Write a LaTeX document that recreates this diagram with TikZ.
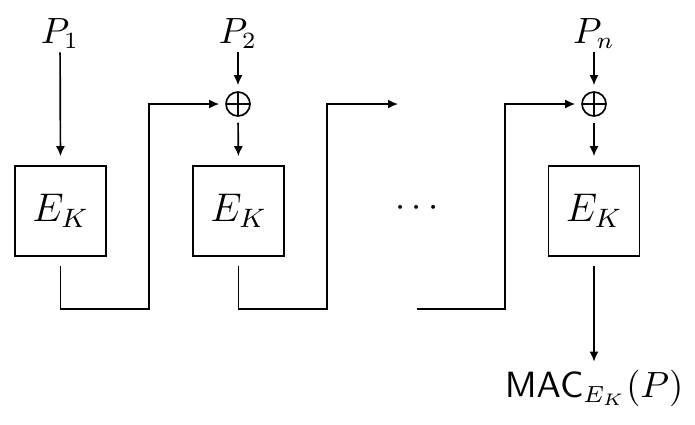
\documentclass[tikz,border=0pt]{standalone}
\usetikzlibrary{arrows.meta,calc}
\begin{document}
\begin{tikzpicture}[x=0.3pt,y=-0.3pt,
  conn/.style={line width=0.5pt},
  arr/.style={conn,-{Latex[length=3pt,width=2.7pt]}},
  lbl/.style={inner sep=1pt,font=\fontsize{10.6}{12}\selectfont},
  cipher/.style={draw,line width=0.5pt,minimum width=27.3pt,minimum height=27pt,inner sep=0pt,font=\fontsize{12}{14}\selectfont},
  xorop/.style={draw,circle,line width=0.5pt,minimum size=7.2pt,inner sep=0pt,
    path picture={\draw[line width=0.5pt] (path picture bounding box.north) -- (path picture bounding box.south)
      (path picture bounding box.west) -- (path picture bounding box.east);}}]
\useasboundingbox (0,0) rectangle (695,424);
% inputs
\node[lbl,anchor=base] (p1) at (60,43) {$P_1$};
\node[lbl,anchor=base] (p2) at (238,43) {$P_2$};
\node[lbl,anchor=base] (pn) at (594,43) {$P_n$};
% xor
\node[xorop] (x2) at (238,104) {};
\node[xorop] (x3) at (594,104) {};
% boxes
\node[cipher] (b1) at (60.5,211) {$E_K$};
\node[cipher] (b2) at (238.5,211) {$E_K$};
\node[cipher] (b3) at (594,211) {$E_K$};
% dots
\node[lbl,font=\fontsize{11}{13}\selectfont] (dots) at (417,208) {$\cdots$};
% output
\node[lbl,anchor=base] (mac) at (594,397) {$\mathsf{MAC}_{E_K}(P)$};
% coordinates
\coordinate (c1a) at (60.5,309);
\coordinate (c1b) at (149,309);
\coordinate (c2a) at (238.5,309);
\coordinate (c2b) at (327,309);
\coordinate (d1) at (398,104);
\coordinate (d2) at (417,309);
\coordinate (c3b) at (505,309);
% connectors
\draw[arr,shorten >=2.7pt] (p1) -- (b1.north);
\draw[arr,shorten >=1.8pt] (p2) -- (x2.north);
\draw[arr,shorten >=1.8pt] (pn) -- (x3.north);
\draw[arr,shorten <=1.8pt,shorten >=2.7pt] (x2.south) -- (b2.north);
\draw[arr,shorten <=1.8pt,shorten >=2.7pt] (x3.south) -- (b3.north);
\draw[arr,shorten <=2.7pt,shorten >=1.8pt] (b1.south) -- (c1a) -- (c1b) |- (x2.west);
\draw[arr,shorten <=2.7pt] (b2.south) -- (c2a) -- (c2b) |- (d1);
\draw[arr,shorten >=1.8pt] (d2) -- (c3b) |- (x3.west);
\draw[arr,shorten <=2.7pt,shorten >=1.2pt] (b3.south) -- (mac.north);
\end{tikzpicture}
\end{document}
